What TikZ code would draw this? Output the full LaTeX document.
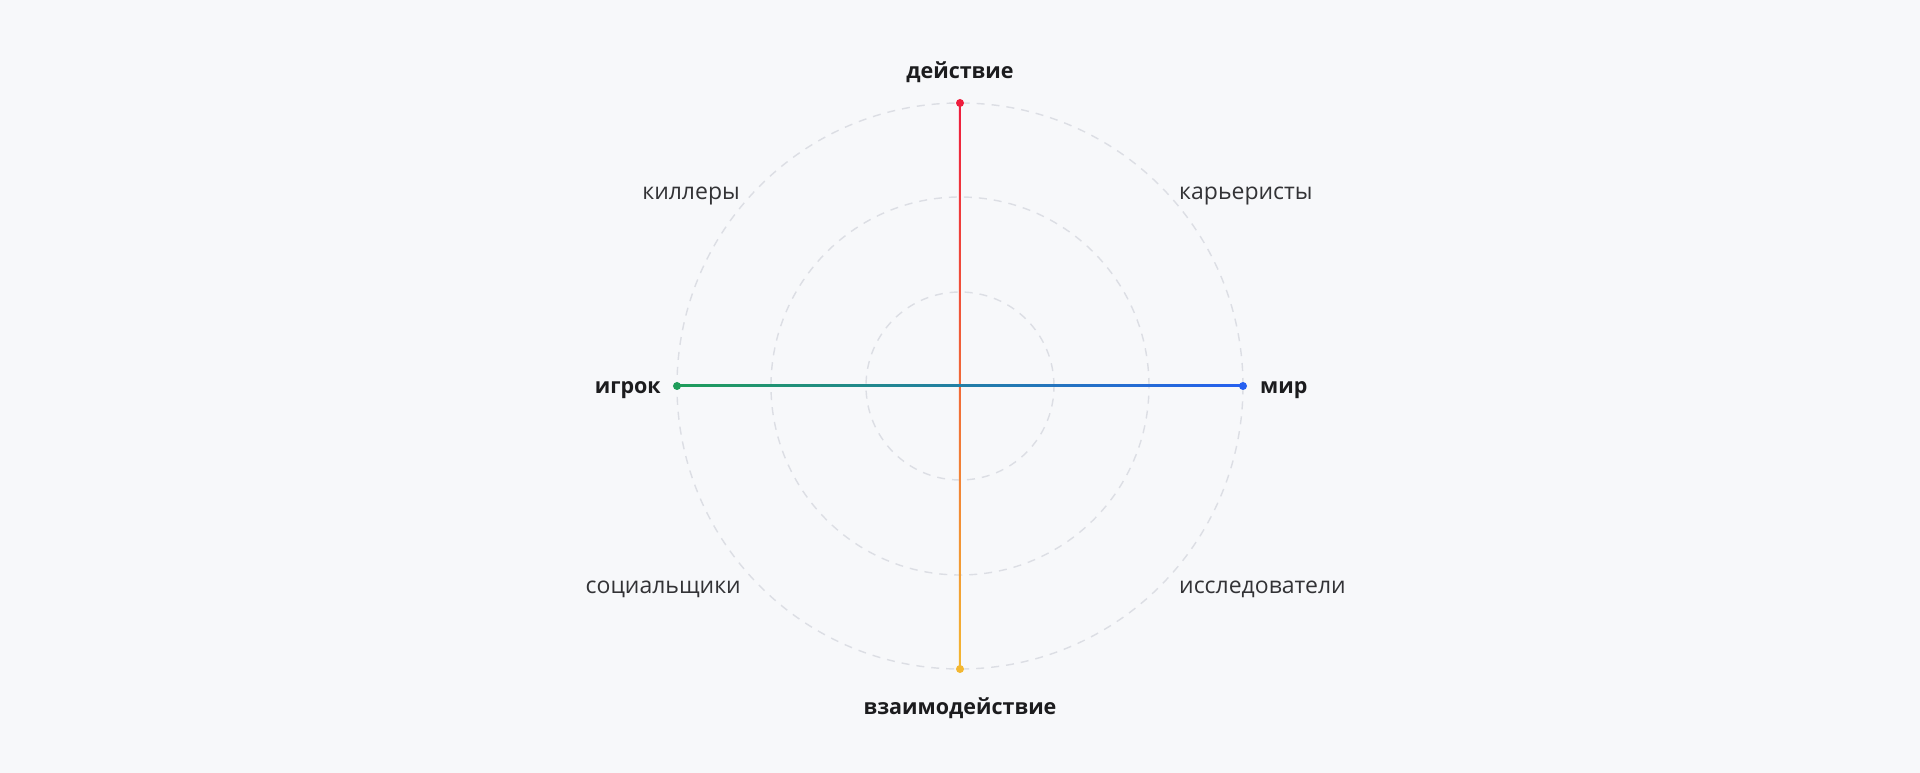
\documentclass[tikz,border=0pt]{standalone}
\usepackage{fontspec}
\setmainfont{Open Sans}
\definecolor{bgcol}{HTML}{F7F8FA}
\definecolor{ringcol}{HTML}{DCDEE4}
\definecolor{cred}{HTML}{EE1D3D}
\definecolor{cyellow}{HTML}{F3B731}
\definecolor{cgreen}{HTML}{1F9D5A}
\definecolor{cblue}{HTML}{2660F0}
\definecolor{txtdark}{HTML}{1C1C1E}
\definecolor{txtsoft}{HTML}{333336}
\begin{document}
\begin{tikzpicture}[x=1pt, y=1pt,
  pdot/.style={circle, fill, inner sep=0, minimum size=8pt},
  axislbl/.style={inner sep=0, text=txtdark, font=\fontsize{21.5}{25}\selectfont\bfseries},
  typelbl/.style={inner sep=0, text=txtsoft, font=\fontsize{23}{26}\selectfont},
  ring/.style={draw=ringcol, line width=1.4pt, dash pattern=on 8pt off 7pt}]
\fill[bgcol] (-960,-387) rectangle (960,386);
\useasboundingbox (-960,-387) rectangle (960,386);

% rings
\draw[ring] (0,0) circle (94);
\draw[ring] (0,0) circle (189);
\draw[ring] (0,0) circle (283);

% axis ends
\coordinate (o) at (0,0);
\coordinate (act) at (0,283);
\coordinate (inter) at (0,-283);
\coordinate (player) at (-283,0);
\coordinate (world) at (283,0);

\shade[top color=cred, bottom color=cyellow] ([xshift=-1pt]act) rectangle ([xshift=1pt]inter);
\shade[left color=cgreen, right color=cblue] ([yshift=1pt]player) rectangle ([yshift=-1pt]world);

\node[pdot, cred] (actdot) at (act) {};
\node[pdot, cyellow] (interdot) at (inter) {};
\node[pdot, cgreen] (playerdot) at (player) {};
\node[pdot, cblue] (worlddot) at (world) {};

% axis labels
\node[axislbl, anchor=mid] (lact) at (0,310) {действие};
\node[axislbl, anchor=mid] (linter) at (0,-326) {взаимодействие};
\node[axislbl, anchor=mid east] (lplayer) at (-299,-5) {игрок};
\node[axislbl, anchor=mid west] (lworld) at (300,-5) {мир};

% player types
\node[typelbl, anchor=mid east] (killers) at (-220,189) {киллеры};
\node[typelbl, anchor=mid west] (achievers) at (219,189) {карьеристы};
\node[typelbl, anchor=mid east] (socializers) at (-219,-205) {социальщики};
\node[typelbl, anchor=mid west] (explorers) at (219,-205) {исследователи};

\end{tikzpicture}
\end{document}
